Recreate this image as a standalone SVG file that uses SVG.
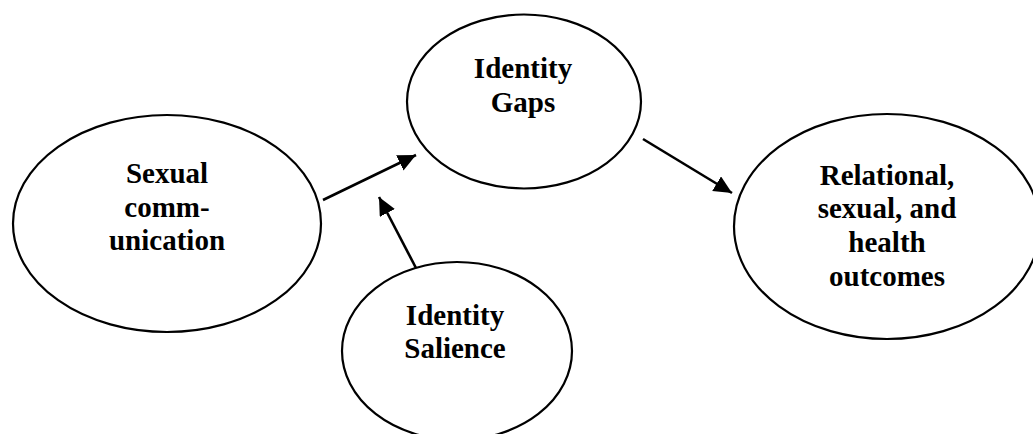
<svg xmlns="http://www.w3.org/2000/svg" width="1033" height="434" viewBox="0 0 1033 434">
<style>
.node{fill:#fff;stroke:#000;stroke-width:2.2}
.lbl{font-family:"Liberation Serif","Times New Roman",serif;font-weight:bold;font-size:29px;fill:#000;text-anchor:middle}
.conn{stroke:#000;stroke-width:2.6;fill:none}
</style>
<defs>
<marker id="ah" markerUnits="userSpaceOnUse" markerWidth="22" markerHeight="22" refX="18" refY="8.5" orient="auto">
<path d="M0,0 L18,8.5 L0,17 Z" fill="#000"/>
</marker>
</defs>
<rect width="1033" height="434" fill="#fff"/>
<g id="sexual-communication">
<ellipse class="node" cx="167" cy="223.5" rx="154" ry="108.5"/>
<text class="lbl" x="167" y="183">Sexual</text>
<text class="lbl" x="167" y="217">comm-</text>
<text class="lbl" x="167" y="250">unication</text>
</g>
<g id="identity-gaps">
<ellipse class="node" cx="524" cy="101.5" rx="117" ry="87"/>
<text class="lbl" x="523" y="78">Identity</text>
<text class="lbl" x="523" y="112">Gaps</text>
</g>
<g id="identity-salience">
<ellipse class="node" cx="457" cy="351" rx="115" ry="89"/>
<text class="lbl" x="455" y="325">Identity</text>
<text class="lbl" x="455" y="358">Salience</text>
</g>
<g id="outcomes">
<ellipse class="node" cx="887" cy="226.5" rx="153" ry="112.5"/>
<text class="lbl" x="887" y="185">Relational,</text>
<text class="lbl" x="887" y="218">sexual, and</text>
<text class="lbl" x="887" y="252">health</text>
<text class="lbl" x="887" y="286">outcomes</text>
</g>
<g id="connectors">
<line class="conn" x1="323" y1="200" x2="416" y2="155" marker-end="url(#ah)"/>
<line class="conn" x1="416" y1="268" x2="379" y2="197" marker-end="url(#ah)"/>
<line class="conn" x1="643" y1="139" x2="732" y2="193" marker-end="url(#ah)"/>
</g>
</svg>
